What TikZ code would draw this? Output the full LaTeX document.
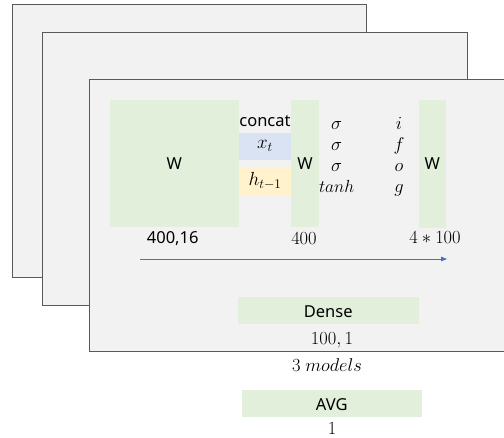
\documentclass[tikz,border=0pt]{standalone}
\usepackage{fix-cm}
\usepackage[no-math]{fontspec}
\setmainfont{Noto Sans}
\usetikzlibrary{arrows.meta}
\definecolor{panelfill}{HTML}{F2F2F2}
\definecolor{panelline}{HTML}{595959}
\definecolor{wgreen}{HTML}{E2EFDA}
\definecolor{xblue}{HTML}{DAE3F3}
\definecolor{hyellow}{HTML}{FFF2CC}
\definecolor{flowblue}{HTML}{4472C4}
\tikzset{
  panel/.style={draw=panelline, line width=1.1pt, fill=panelfill, rectangle, inner sep=0pt, anchor=north west},
  block/.style={rectangle, inner sep=0pt, draw=none, font=\fontsize{16.5}{20}\selectfont},
  sanslabel/.style={inner sep=0pt, anchor=base, font=\fontsize{16.5}{20}\selectfont},
  mathlabel/.style={inner sep=0pt, anchor=base, font=\fontsize{18.5}{22}\selectfont},
}
\begin{document}
\begin{tikzpicture}[x=1pt, y=-1pt]
\path[use as bounding box, clip] (0,0) rectangle (504,437);
\fill[white] (0,0) rectangle (504,437);

% three stacked model panels
\node[panel, minimum width=354pt, minimum height=273pt] (back) at (12,4) {};
\node[panel, minimum width=425pt, minimum height=273pt] (mid) at (42,32) {};
\node[panel, minimum width=440pt, minimum height=272pt] (front) at (89,79) {};

% weight blocks and concatenated input
\node[block, fill=wgreen, minimum width=129.5pt, minimum height=126.7pt] (w1) at (174.25,163.3) {W};
\node[block, fill=xblue, minimum width=52pt, minimum height=27.3pt, font=\fontsize{19}{22}\selectfont] (xt) at (265,146.3) {$x_t$};
\node[block, fill=hyellow, minimum width=52pt, minimum height=28pt, font=\fontsize{19}{22}\selectfont] (ht) at (265,181) {$h_{t-1}$};
\node[block, fill=wgreen, minimum width=28pt, minimum height=126.7pt] (w2) at (305,163.3) {W};
\node[block, fill=wgreen, minimum width=27.3pt, minimum height=128pt] (w3) at (432.4,164) {W};
\node[sanslabel] (concat) at (265,126) {concat};

% gate activations and gate names
\node[mathlabel] (s1) at (336.7,129.3) {$\sigma$};
\node[mathlabel] (s2) at (336.7,150.5) {$\sigma$};
\node[mathlabel] (s3) at (336.7,171.5) {$\sigma$};
\node[mathlabel, font=\fontsize{17.5}{21}\selectfont] (s4) at (336.7,192) {$tanh$};
\node[mathlabel] (gi) at (399,129.3) {$i$};
\node[mathlabel] (gf) at (399,150.5) {$f$};
\node[mathlabel] (go) at (399,171.5) {$o$};
\node[mathlabel] (gg) at (399,192) {$g$};

% shapes
\node[sanslabel] (d1) at (172.7,243.3) {400,16};
\node[mathlabel] (d2) at (304,244) {$400$};
\node[mathlabel] (d3) at (435,243.5) {$4*100$};

% flow arrow
\coordinate (fa) at (140,259);
\coordinate (fb) at (447,259);
\draw[flowblue, line width=0.8pt, -{Triangle[length=6pt,width=4.5pt]}] (fa) -- (fb);

% dense head
\node[block, fill=wgreen, minimum width=181pt, minimum height=27pt] (dense) at (328.2,310.5) {};
\node[sanslabel] (densetxt) at (328.2,317.3) {Dense};
\node[mathlabel] (d4) at (332,344) {$100,1$};

% ensemble
\node[mathlabel] (models) at (327,371.7) {$3\ models$};
\node[block, fill=wgreen, minimum width=180.3pt, minimum height=27pt] (avg) at (331.8,403.5) {};
\node[sanslabel] (avgtxt) at (331.8,410) {AVG};
\node[mathlabel] (d5) at (332,434) {$1$};
\end{tikzpicture}
\end{document}
